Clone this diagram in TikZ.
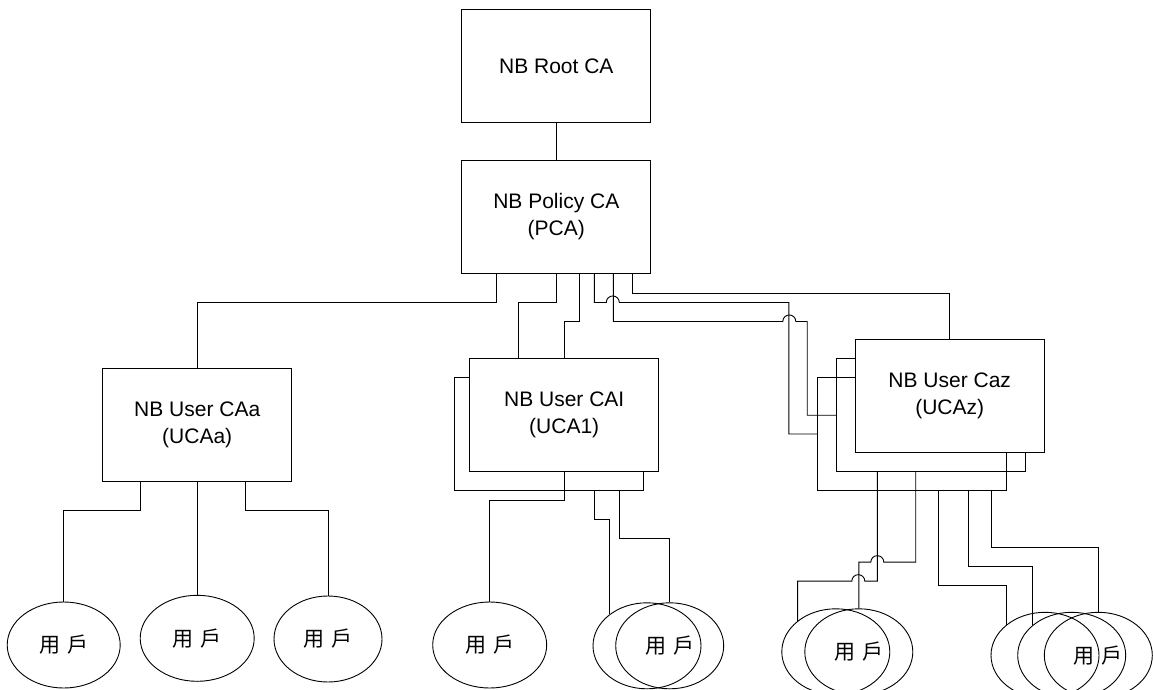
\documentclass[tikz,border=0pt]{standalone}
\usepackage{fontspec}
\setmainfont{Liberation Sans}
\newfontfamily\cjk{Noto Sans CJK TC}
\usetikzlibrary{
    positioning,
    shapes.geometric
}

\begin{document}
\begin{tikzpicture}[
        x=1pt, y=-1pt,
        line width=0.9pt,
        cabox/.style={
            rectangle,
            draw,
            fill=white,
            align=center,
            font=\fontsize{21}{27}\selectfont,
            minimum width=189pt,
            minimum height=113pt
        },
        backbox/.style={
            cabox,
            fill=none
        },
        user/.style={
            ellipse,
            draw,
            inner sep=0pt,
            minimum width=108pt,
            minimum height=86pt,
            font=\cjk\fontsize{21}{21}\selectfont
        },
        link/.style={
            line width=0.9pt
        }
    ]

    \useasboundingbox (0,0) rectangle (1153,690);
    \clip (0,0) rectangle (1153,690);

    \node[cabox] (root) at (556.3,65.8) {NB Root CA};
    \node[cabox] (pca) at (556.3,216.8) {NB Policy CA\\(PCA)};

    \node[cabox] (ucaa) at (197.2,424.5) {NB User CAa\\(UCAa)};

    \node[backbox] (uca1b) at (549,434) {};
    \node[cabox] (uca1) at (564.2,414.8) {NB User CAI\\(UCA1)};

    \node[backbox] (ucazc) at (911.8,434) {};
    \node[backbox] (ucazb) at (930.8,415.2) {};
    \node[cabox] (ucaza) at (949.7,396.3) {NB User Caz\\(UCAz)};

    \node[user, minimum width=113pt] (ua1) at (63.7,645) {用\hspace{7pt}戶};
    \node[user, minimum width=114pt] (ua2) at (197.2,638.3) {用\hspace{7pt}戶};
    \node[user] (ua3) at (328,639) {用\hspace{7pt}戶};

    \node[user, minimum width=114pt] (ub1) at (489.7,645) {用\hspace{7pt}戶};
    \node[user] (ub2) at (647,645.8) {};
    \node[user] (ub3) at (669.7,645.8) {用\hspace{7pt}戶};

    \node[user] (uc1) at (835.8,651.8) {};
    \node[user] (uc2) at (858.8,651.8) {用\hspace{7pt}戶};

    \node[user] (ud1) at (1045,655.3) {};
    \node[user] (ud2) at (1071.7,655.3) {};
    \node[user] (ud3) at (1098.3,655.3) {用\hspace{7pt}戶};

    \draw[link] (root) -- (pca);

    \draw[link] ([xshift=-60.3pt]pca.south) -- ++(0,28.7) -| (ucaa.north);
    \draw[link] (pca.south) -- ++(0,28.7) -| ([xshift=-45.5pt]uca1.north);
    \draw[link] ([xshift=23pt]pca.south) -- ++(0,47.7) -| (uca1.north);
    \draw[link] ([xshift=38pt]pca.south) -- ++(0,28.7) -- ++(12,0)
        arc[start angle=180, end angle=0, radius=6.5pt]
        -| ([xshift=-28pt]ucazc.west) -- (ucazc.west);
    \draw[link] ([xshift=57pt]pca.south) -- ++(0,47.7) -- ++(169.5,0)
        arc[start angle=180, end angle=0, radius=6.5pt]
        -| ([xshift=-28.6pt]ucazb.west) -- (ucazb.west);
    \draw[link] ([xshift=76pt]pca.south) -- ++(0,19.4) -| (ucaza.north);

    \draw[link] ([xshift=-56.5pt]ucaa.south) -- ++(0,28.6) -| (ua1.north);
    \draw[link] (ucaa.south) -- (ua2.north);
    \draw[link] ([xshift=47.8pt]ucaa.south) -- ++(0,28.6) -| (ua3.north);

    \draw[link] (uca1.south) -- ++(0,28.3) -| (ub1.north);
    \draw[link] ([xshift=45pt]uca1b.south) -- ++(0,28.6) -| (ub2.140);
    \draw[link] ([xshift=70pt]uca1b.south) -- ++(0,47.3) -| (ub3.north);

    \draw[link] ([xshift=-53.5pt]ucazb.south) -- ++(0,109) -- ++(-12.5,0)
        arc[start angle=0, end angle=180, radius=6.5pt] -| (uc1.141);
    \draw[link] ([xshift=-15.1pt]ucazb.south) -- ++(0,90) -- ++(-31.9,0)
        arc[start angle=0, end angle=180, radius=6.5pt] -| (uc2.north);

    \draw[link] ([xshift=26.5pt]ucazc.south) -- ++(0,94.3) -| (ud1.142);
    \draw[link] ([xshift=56.9pt]ucazc.south) -- ++(0,75.3) -| (ud2.142);
    \draw[link] ([xshift=79.2pt]ucazc.south) -- ++(0,56.6) -| (ud3.north);

\end{tikzpicture}
\end{document}
